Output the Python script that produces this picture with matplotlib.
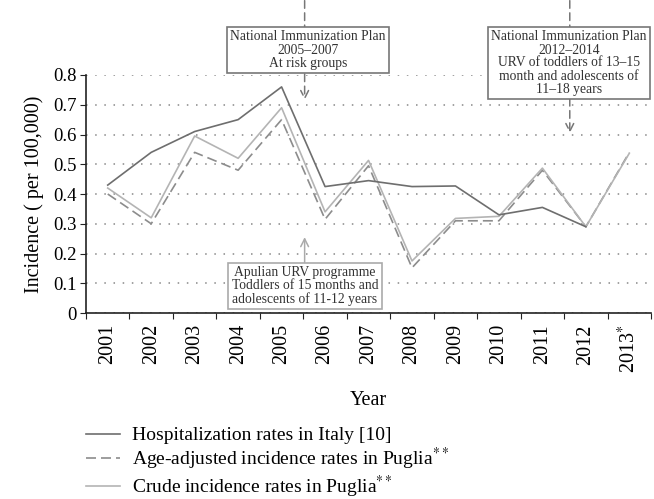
import numpy as np
import matplotlib
matplotlib.use('Agg')
import matplotlib.pyplot as plt

plt.rcParams['font.family'] = ['Liberation Serif', 'DejaVu Serif']
plt.rcParams['mathtext.fontset'] = 'stix'

# data
years = ['2001', '2002', '2003', '2004', '2005', '2006', '2007',
         '2008', '2009', '2010', '2011', '2012', '2013$^{*}$']
hosp_italy = [0.43, 0.54, 0.61, 0.65, 0.76, 0.425, 0.445, 0.425, 0.427, 0.33, 0.355, 0.29]
age_adjusted = [0.40, 0.30, 0.54, 0.48, 0.65, 0.315, 0.495, 0.152, 0.31, 0.31, 0.48, 0.29, 0.54]
crude = [0.42, 0.32, 0.595, 0.52, 0.69, 0.34, 0.513, 0.175, 0.318, 0.325, 0.487, 0.29, 0.537]

labels = ['Hospitalization rates in Italy [10]',
          'Age-adjusted incidence rates in Puglia$^{**}$',
          'Crude incidence rates in Puglia$^{**}$']

fig = plt.figure(figsize=(6.54, 4.99), dpi=100)
ax = fig.add_axes([0.1315, 0.3727, 0.864, 0.477])

x = np.arange(len(years))
l1, = ax.plot(x[:len(hosp_italy)], hosp_italy, color='#6e6e6e', lw=1.2, zorder=4)
l2, = ax.plot(x, age_adjusted, color='#8c8c8c', lw=1.2, dashes=(6, 3), zorder=3)
l3, = ax.plot(x, crude, color='#b4b4b4', lw=1.2, zorder=3)

ax.set_xlim(-0.5, len(years) - 0.5)
ax.set_ylim(0, 0.8)
ax.set_yticks(np.arange(0, 0.81, 0.1))
ax.set_yticklabels(['0', '0.1', '0.2', '0.3', '0.4', '0.5', '0.6', '0.7', '0.8'])
ax.yaxis.grid(True, linestyle=(0, (1, 5)), color='#888888', lw=1.1)
ax.set_axisbelow(True)

# boundary ticks, labels in the middle
ax.set_xticks(np.arange(-0.5, len(years), 1.0))
ax.set_xticklabels([])
ax.set_xticks(x, minor=True)
ax.set_xticklabels(years, minor=True, rotation=90, fontsize=14.5)
ax.tick_params(axis='x', which='minor', length=0, pad=8)
ax.tick_params(axis='x', which='major', length=4, direction='out', color='#222222')
ax.tick_params(axis='y', length=4, direction='out', labelsize=13.5, color='#222222', pad=3)

for s in ['top', 'right']:
    ax.spines[s].set_visible(False)
for s in ['left', 'bottom']:
    ax.spines[s].set_color('#222222')
    ax.spines[s].set_linewidth(1.2)

ax.set_ylabel('Incidence ( per 100,000)', fontsize=14.5, labelpad=6)
ax.set_xlabel('Year', fontsize=14.5, labelpad=13)

# annotations
arrow_dark = dict(arrowstyle='->', linestyle=(0, (5, 3)), color='#777777', lw=1.1,
                  mutation_scale=14, shrinkA=0, shrinkB=0)
ax.annotate('', xy=(4.53, 0.716), xytext=(4.53, 1.05), xycoords='data',
            arrowprops=arrow_dark, annotation_clip=False, zorder=1)
ax.annotate('', xy=(10.63, 0.605), xytext=(10.63, 1.05), xycoords='data',
            arrowprops=arrow_dark, annotation_clip=False, zorder=1)
arrow_light = dict(arrowstyle='->', color='#aaaaaa', lw=1.1, mutation_scale=14,
                   shrinkA=0, shrinkB=0)
ax.annotate('', xy=(4.53, 0.255), xytext=(4.53, 0.17), xycoords='data',
            arrowprops=arrow_light, annotation_clip=False, zorder=1)

box_dark = dict(boxstyle='square,pad=0.25', fc='white', ec='#777777', lw=1.2)
box_light = dict(boxstyle='square,pad=0.25', fc='white', ec='#aaaaaa', lw=1.2)
fig.text(308 / 654, 1 - 50 / 499,
         'National Immunization Plan\n2005\u20132007\nAt risk groups',
         ha='center', va='center', fontsize=9.8, color='#333333', linespacing=1.0,
         bbox=box_dark, zorder=5)
fig.text(569 / 654, 1 - 63 / 499,
         'National Immunization Plan\n2012\u20132014\nURV of toddlers of 13\u201315\n'
         'month and adolescents of\n11\u201318 years',
         ha='center', va='center', fontsize=9.8, color='#333333', linespacing=1.0,
         bbox=box_dark, zorder=5)
fig.text(305 / 654, 1 - 286 / 499,
         'Apulian URV programme\nToddlers of 15 months and\nadolescents of 11-12 years',
         ha='center', va='center', fontsize=9.8, color='#333333', linespacing=1.0,
         bbox=box_light, zorder=5)

fig.legend([l1, l2, l3], labels, loc='upper left', bbox_to_anchor=(78 / 654, 1 - 419 / 499),
           frameon=False, fontsize=14, handlelength=1.75, handletextpad=0.65,
           labelspacing=0.08, borderaxespad=0)

fig.savefig('out.png', dpi=100)
